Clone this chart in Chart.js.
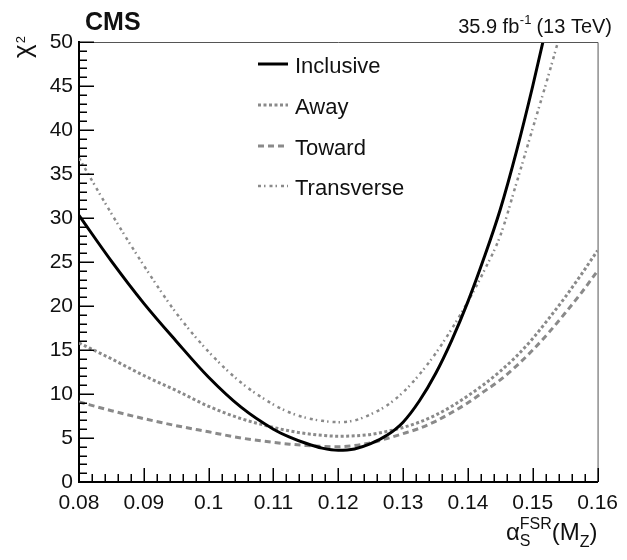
<!DOCTYPE html>
<html>
<head>
<meta charset="utf-8">
<script src="https://cdn.jsdelivr.net/npm/chart.js@4.4.1/dist/chart.umd.min.js"></script>
<style>
  html, body { margin: 0; padding: 0; background: #fff; }
  canvas { display: block; }
</style>
</head>
<body>
<canvas id="chi2" width="627" height="560"></canvas>
<script>
// alpha_s^FSR(M_Z) scan points
const alphaS = [0.08, 0.085, 0.09, 0.095, 0.10, 0.105, 0.11, 0.1125, 0.115, 0.1175,
                0.12, 0.1225, 0.125, 0.1275, 0.13, 0.1325, 0.135, 0.1375, 0.14, 0.1425,
                0.145, 0.1475, 0.15, 0.1525, 0.155, 0.1575, 0.16];

// chi2 values (above 50 is outside the frame)
const inclusive  = [30.3, 25.1, 20.3, 16.0, 11.9, 8.5, 6.0, 5.1, 4.4, 3.85,
                    3.6, 3.75, 4.35, 5.3, 6.8, 9.2, 12.3, 16.1, 20.5, 25.5,
                    31.0, 37.6, 45.0, 53.0, 61.0, 70.0, 80.0];
const away       = [15.8, 14.0, 12.1, 10.4, 8.6, 7.2, 6.2, 5.8, 5.5, 5.3,
                    5.2, 5.25, 5.4, 5.75, 6.2, 6.8, 7.6, 8.6, 9.8, 11.1,
                    12.6, 14.3, 16.3, 18.6, 21.0, 23.6, 26.3];
const toward     = [9.1, 8.1, 7.2, 6.4, 5.7, 5.0, 4.5, 4.3, 4.15, 4.05,
                    4.0, 4.15, 4.45, 4.95, 5.5, 6.1, 6.9, 7.9, 9.0, 10.3,
                    11.6, 13.2, 15.0, 17.0, 19.2, 21.5, 24.0];
const transverse = [36.8, 30.5, 24.6, 19.2, 14.8, 11.3, 8.8, 7.9, 7.3, 6.95,
                    6.8, 7.0, 7.7, 8.7, 10.2, 12.2, 14.6, 17.4, 20.5, 24.0,
                    28.0, 34.0, 40.2, 46.4, 53.0, 60.0, 68.0];

const seriesNames = ['Inclusive', 'Away', 'Toward', 'Transverse'];

const FONT = '"Liberation Sans", Arial, Helvetica, sans-serif';
const GREY = '#8a8a8a';

function toPoints(ys) {
    return alphaS.map((x, i) => ({ x: x, y: ys[i] }));
}

const decorations = {
    id: 'decorations',
    beforeDraw(chart) {
        const ctx = chart.ctx;
        ctx.save();
        ctx.fillStyle = '#fff';
        ctx.fillRect(0, 0, chart.width, chart.height);
        ctx.restore();
    },
    afterDraw(chart) {
        const ctx = chart.ctx;
        const a = chart.chartArea;
        const xs = chart.scales.x;
        const ys = chart.scales.y;
        ctx.save();

        // top and right frame
        ctx.strokeStyle = '#555';
        ctx.lineWidth = 1;
        ctx.beginPath();
        ctx.moveTo(a.left, a.top + 0.5);
        ctx.lineTo(a.right + 0.5, a.top + 0.5);
        ctx.lineTo(a.right + 0.5, a.bottom);
        ctx.stroke();

        // tick marks pointing inside
        ctx.strokeStyle = '#000';
        ctx.lineWidth = 1.5;
        ctx.beginPath();
        for (let i = 0; i <= 40; i++) {
            const px = Math.round(xs.getPixelForValue(0.08 + i * 0.002)) + 0.25;
            const len = (i % 5 === 0) ? 14 : 8;
            ctx.moveTo(px, a.bottom);
            ctx.lineTo(px, a.bottom - len);
        }
        for (let j = 0; j <= 50; j++) {
            const py = Math.round(ys.getPixelForValue(j)) + 0.25;
            const len = (j % 5 === 0) ? 15 : 8;
            ctx.moveTo(a.left, py);
            ctx.lineTo(a.left + len, py);
        }
        ctx.stroke();

        ctx.fillStyle = '#111';
        ctx.textBaseline = 'alphabetic';

        // CMS
        ctx.font = 'bold 25px ' + FONT;
        ctx.textAlign = 'left';
        ctx.fillText('CMS', 85, 30);

        // luminosity label, right aligned
        const lumiA = '35.9 fb', lumiSup = '-1', lumiB = ' (13 TeV)';
        ctx.font = '20px ' + FONT;
        const wA = ctx.measureText(lumiA).width;
        const wB = ctx.measureText(lumiB).width;
        ctx.font = '13px ' + FONT;
        const wS = ctx.measureText(lumiSup).width;
        let lx = 612 - (wA + wS + wB);
        ctx.font = '20px ' + FONT;
        ctx.fillText(lumiA, lx, 33);
        ctx.font = '13px ' + FONT;
        ctx.fillText(lumiSup, lx + wA + 0.5, 24);
        ctx.font = '20px ' + FONT;
        ctx.fillText(lumiB, lx + wA + wS, 33);

        // x axis title: alpha_S^FSR(M_Z)
        ctx.font = '24px ' + FONT;
        const wAlpha = ctx.measureText('\u03b1').width;
        const wOpen = ctx.measureText('(M').width;
        const wClose = ctx.measureText(')').width;
        ctx.font = '16px ' + FONT;
        const wFSR = ctx.measureText('FSR').width;
        const wZ = ctx.measureText('Z').width;
        let tx = a.right - (wAlpha + wFSR + wOpen + wZ + wClose);
        const tb = 540;
        ctx.font = '24px ' + FONT;
        ctx.fillText('\u03b1', tx, tb);
        ctx.font = '16px ' + FONT;
        ctx.fillText('FSR', tx + wAlpha, tb - 11);
        ctx.fillText('S', tx + wAlpha, tb + 6);
        tx += wAlpha + wFSR;
        ctx.font = '24px ' + FONT;
        ctx.fillText('(M', tx, tb);
        tx += wOpen;
        ctx.font = '16px ' + FONT;
        ctx.fillText('Z', tx, tb + 7);
        tx += wZ;
        ctx.font = '24px ' + FONT;
        ctx.fillText(')', tx, tb);

        // y axis title: chi^2, rotated
        ctx.save();
        ctx.translate(31, 58);
        ctx.rotate(-Math.PI / 2);
        ctx.font = '26px ' + FONT;
        ctx.fillText('\u03c7', 0, 0);
        const wChi = ctx.measureText('\u03c7').width;
        ctx.font = '13px ' + FONT;
        ctx.fillText('2', wChi + 1, -6);
        ctx.restore();

        // legend
        const rows = [65, 106, 147, 187];
        chart.data.datasets.forEach((ds, k) => {
            const y = rows[k];
            ctx.strokeStyle = ds.borderColor;
            ctx.lineWidth = ds.borderWidth;
            ctx.setLineDash(ds.borderDash || []);
            ctx.beginPath();
            ctx.moveTo(258, y - 1);
            ctx.lineTo(288, y - 1);
            ctx.stroke();
            ctx.setLineDash([]);
            ctx.font = '22px ' + FONT;
            ctx.fillStyle = '#111';
            ctx.fillText(ds.label, 295, y + 8);
        });

        ctx.restore();
    }
};

const ctx = document.getElementById('chi2').getContext('2d');
const chart = new Chart(ctx, {
    type: 'line',
    data: {
        datasets: [
            { label: seriesNames[0], data: toPoints(inclusive), borderColor: '#000', borderWidth: 3 },
            { label: seriesNames[1], data: toPoints(away), borderColor: GREY, borderWidth: 3, borderDash: [3, 2.5] },
            { label: seriesNames[2], data: toPoints(toward), borderColor: GREY, borderWidth: 3, borderDash: [6, 4] },
            { label: seriesNames[3], data: toPoints(transverse), borderColor: GREY, borderWidth: 2.5, borderDash: [3, 3, 1.5, 4] }
        ]
    },
    options: {
        responsive: false,
        animation: false,
        devicePixelRatio: 1,
        layout: { padding: { top: 42, right: 22, bottom: 0, left: 0 } },
        elements: {
            point: { radius: 0 },
            line: { cubicInterpolationMode: 'monotone', fill: false }
        },
        datasets: { line: { clip: 0 } },
        plugins: {
            legend: { display: false },
            tooltip: { enabled: false }
        },
        scales: {
            x: {
                type: 'linear',
                min: 0.08,
                max: 0.16,
                grid: { display: false, drawTicks: false },
                border: { display: true, color: '#000', width: 2 },
                ticks: {
                    stepSize: 0.01,
                    autoSkip: false,
                    maxRotation: 0,
                    padding: 9,
                    color: '#111',
                    font: { family: FONT, size: 21 },
                    callback: v => String(parseFloat(Number(v).toFixed(3)))
                },
                afterFit: s => { s.height = 78; }
            },
            y: {
                type: 'linear',
                min: 0,
                max: 50,
                grid: { display: false, drawTicks: false },
                border: { display: true, color: '#000', width: 2 },
                ticks: {
                    stepSize: 5,
                    padding: 6,
                    color: '#111',
                    font: { family: FONT, size: 21 }
                },
                afterFit: s => { s.width = 79; }
            }
        }
    },
    plugins: [decorations]
});
</script>
</body>
</html>
